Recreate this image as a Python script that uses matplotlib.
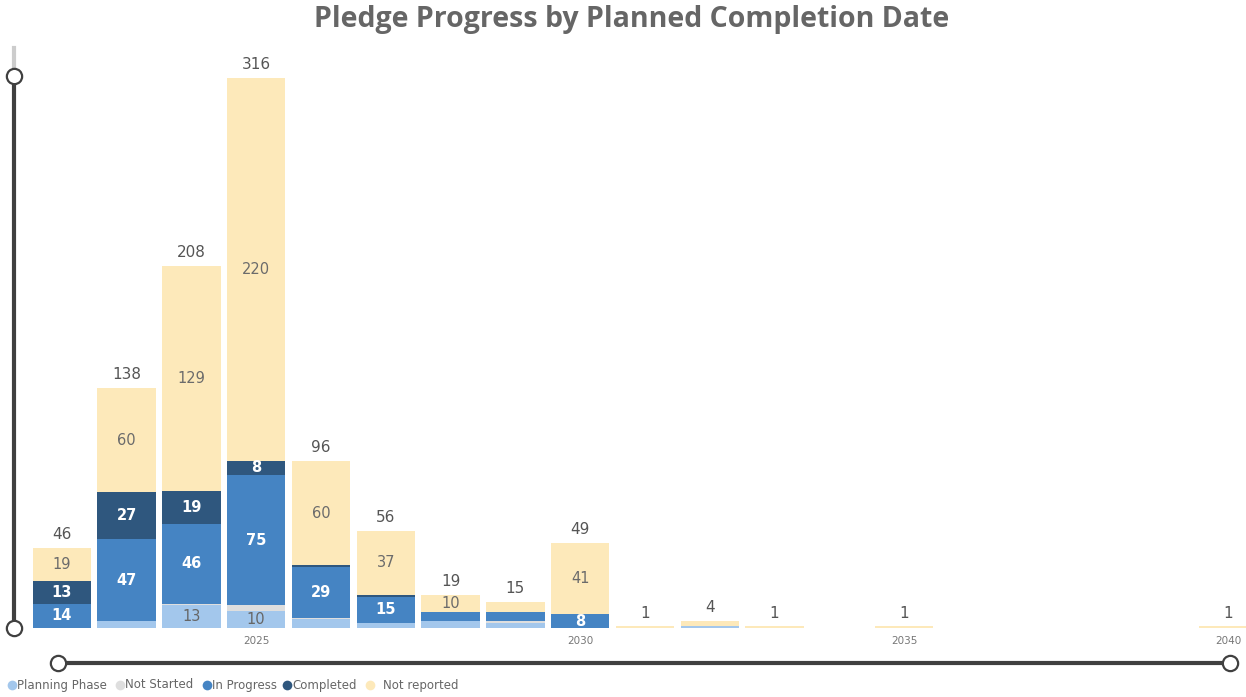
import matplotlib
matplotlib.use("Agg")
import matplotlib.pyplot as plt
from matplotlib.lines import Line2D
import numpy as np

years = [2022, 2023, 2024, 2025, 2026, 2027, 2028, 2029, 2030, 2031, 2032, 2033, 2035, 2040]
planning_phase = [0, 4, 13, 10, 5, 3, 4, 3, 0, 0, 1, 0, 0, 0]
not_started    = [0, 0, 1, 3, 1, 0, 0, 1, 0, 0, 0, 0, 0, 0]
in_progress    = [14, 47, 46, 75, 29, 15, 5, 5, 8, 0, 0, 0, 0, 0]
completed      = [13, 27, 19, 8, 1, 1, 0, 0, 0, 0, 0, 0, 0, 0]
not_reported   = [19, 60, 129, 220, 60, 37, 10, 6, 41, 1, 3, 1, 1, 1]
tick_years = [2025, 2030, 2035, 2040]

series = [
    ("Planning Phase", planning_phase, "#A3C7EC", "#666666"),
    ("Not Started", not_started, "#DEDEDE", "#666666"),
    ("In Progress", in_progress, "#4584C3", "white"),
    ("Completed", completed, "#2F577E", "white"),
    ("Not reported", not_reported, "#FDE9BA", "#6b6b6b"),
]

W, H = 1246, 697
fig = plt.figure(figsize=(W / 100, H / 100), dpi=100)
fig.patch.set_facecolor("white")

base_px = 628
top_px = 40
ax = fig.add_axes([0, 1 - base_px / H, 1, (base_px - top_px) / H])
ax.set_xlim(2022 - 62 / 65, 2040 + 18 / 65)
ax.set_ylim(0, (base_px - top_px) / (550 / 316))
ax.axis("off")

x = np.array(years, dtype=float)
bottom = np.zeros(len(years))
for name, vals, color, tcolor in series:
    v = np.array(vals, dtype=float)
    ax.bar(x, v, bottom=bottom, width=0.9, color=color, edgecolor="none", label=name)
    for xi, b, val in zip(x, bottom, v):
        if val >= 8:
            ax.text(xi, b + val / 2, f"{int(val)}", ha="center", va="center",
                    fontsize=10.5, color=tcolor, family="DejaVu Sans",
                    fontweight="bold" if tcolor == "white" else "normal")
    bottom += v

for xi, tot in zip(x, bottom):
    ax.annotate(f"{int(tot)}", (xi, tot), xytext=(0, 4), textcoords="offset points",
                ha="center", va="bottom", fontsize=11, color="#555555")

for ty in tick_years:
    ax.annotate(str(ty), (ty, 0), xytext=(0, -6), textcoords="offset points",
                ha="center", va="top", fontsize=7.5, color="#777777")

fig.text(632 / W, 1 - 19 / H, "Pledge Progress by Planned Completion Date",
         ha="center", va="center", fontsize=20.5, fontweight="bold", color="#666666",
         family="Open Sans")

# slider decorations
def fx(px):
    return px / W

def fy(py):
    return 1 - py / H

fig.add_artist(Line2D([fx(14), fx(14)], [fy(48), fy(76)], color="#cccccc", lw=3))
fig.add_artist(Line2D([fx(14), fx(14)], [fy(76), fy(628)], color="#404040", lw=3))
fig.add_artist(Line2D([fx(58), fx(1230)], [fy(663), fy(663)], color="#404040", lw=3))
for (px, py) in [(14, 76), (14, 628), (58, 663), (1230, 663)]:
    fig.add_artist(Line2D([fx(px)], [fy(py)], marker="o", markersize=11,
                          markerfacecolor="white", markeredgecolor="#404040",
                          markeredgewidth=1.6))

# legend
leg_items = [("Planning Phase", "#A3C7EC", 8), ("Not Started", "#DEDEDE", 116),
             ("In Progress", "#4584C3", 203), ("Completed", "#2F577E", 283),
             ("Not reported", "#FDE9BA", 366)]
for name, color, px in leg_items:
    fig.add_artist(Line2D([fx(px + 4)], [fy(685)], marker="o", markersize=7,
                          markerfacecolor=color, markeredgecolor="none"))
    offset = 17 if name == "Not reported" else 9
    fig.text(fx(px + offset), fy(685), name, ha="left", va="center",
             fontsize=8.5, color="#666666")

fig.savefig("out.png", dpi=100)
